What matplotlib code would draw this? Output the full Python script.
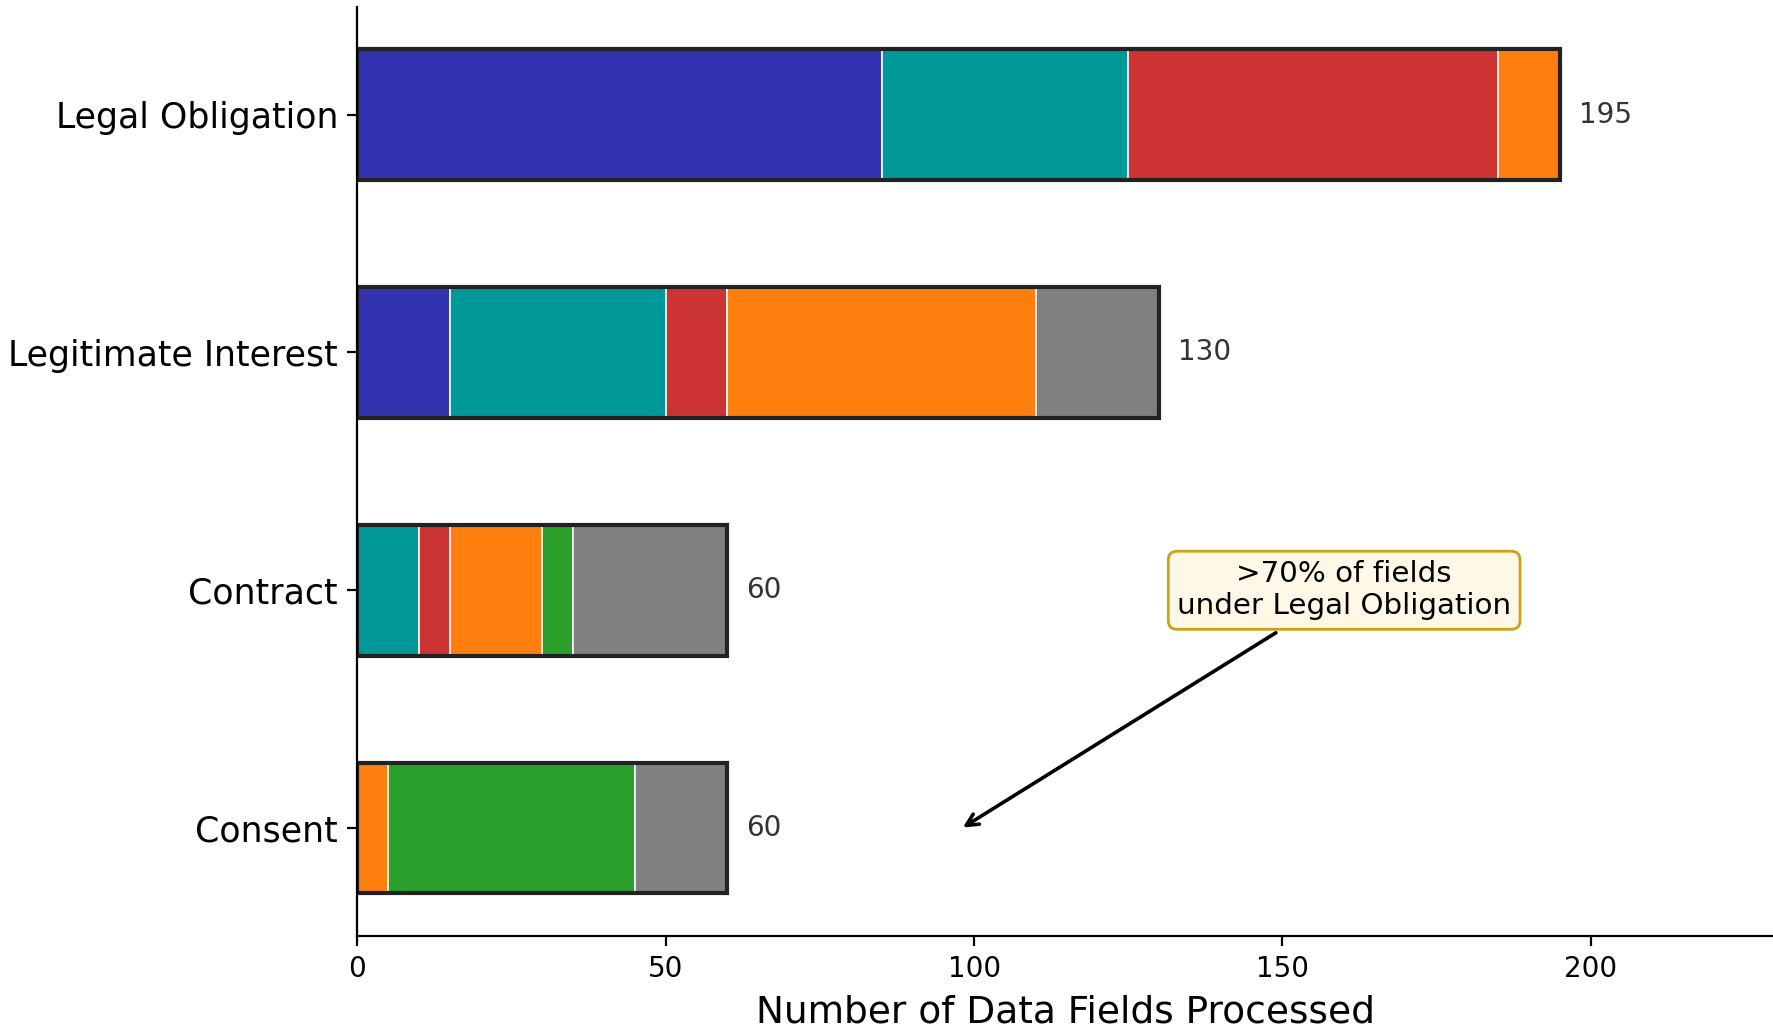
import numpy as np
import matplotlib.pyplot as plt

# lawful basis rows (bottom to top)
bases = ["Consent", "Contract", "Legitimate Interest", "Legal Obligation"]

# data categories stacked left to right
categories = ["Identity", "Contact", "Financial", "Usage", "Marketing", "Other"]
colors = ["#3333b0", "#009999", "#cc3333", "#ff7f0e", "#2ca02c", "#808080"]

# fields per category, one list per category, ordered like `bases`
identity = [0, 0, 15, 85]
contact = [0, 10, 35, 40]
financial = [0, 5, 10, 60]
usage = [5, 15, 50, 10]
marketing = [40, 5, 0, 0]
other = [15, 25, 20, 0]

series = [identity, contact, financial, usage, marketing, other]

plt.rcParams['font.family'] = 'DejaVu Sans'

fig = plt.figure(figsize=(8.87, 5.165), dpi=200)
ax = fig.add_axes([0.2015, 0.0942, 0.7985, 0.899])

y = np.arange(len(bases))
left = np.zeros(len(bases))
for name, vals, c in zip(categories, series, colors):
    vals = np.array(vals, dtype=float)
    ax.barh(y, vals, left=left, height=0.55, color=c, edgecolor="white",
            linewidth=0.6, label=name)
    left += vals

totals = left
ax.barh(y, totals, height=0.55, fill=False, edgecolor="#222222", linewidth=1.5)

for yi, t in zip(y, totals):
    ax.text(t + 3, yi, f"{int(t)}", va="center", ha="left", fontsize=10, color="#333333")

ax.annotate(">70% of fields\nunder Legal Obligation", xy=(97.4, -0.01), xytext=(160, 1.0),
            ha="center", va="center", fontsize=10.6,
            bbox=dict(boxstyle="round,pad=0.3", fc="#fff8e6", ec="#c9a418", lw=1),
            arrowprops=dict(arrowstyle="->", color="black", lw=1.3))

ax.set_yticks(y)
ax.set_yticklabels(bases, fontsize=12.5)
ax.tick_params(axis="x", labelsize=10)
ax.set_xlim(0, 229.7)
ax.set_xlabel("Number of Data Fields Processed", fontsize=13.5)
ax.spines["top"].set_visible(False)
ax.spines["right"].set_visible(False)

fig.savefig("out.png", dpi=200)
